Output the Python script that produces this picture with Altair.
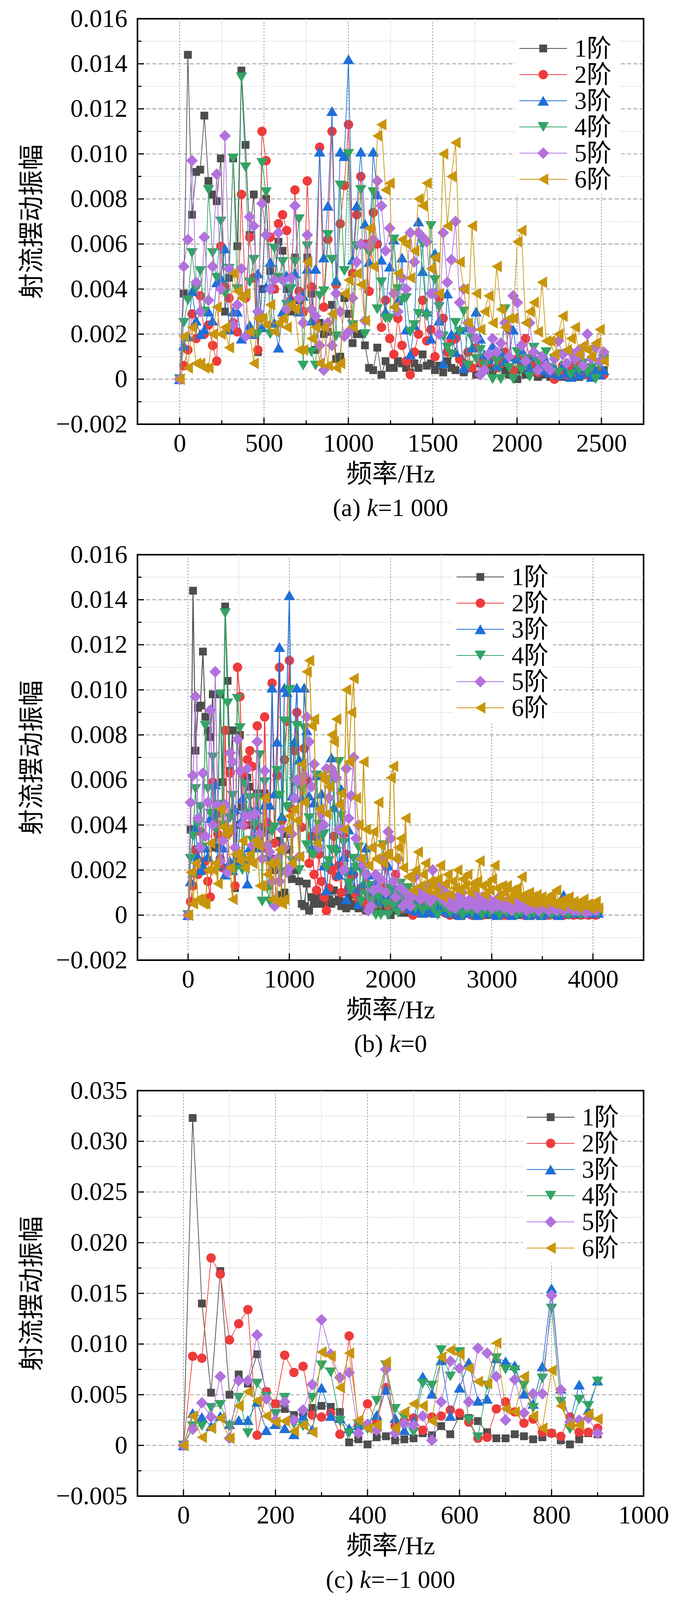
import altair as alt
import pandas as pd

W, H = 1296, 1038
FONT = "Liberation Serif, Noto Sans CJK SC"

ORDERS = ["1阶", "2阶", "3阶", "4阶", "5阶", "6阶"]
COLORS = ["#4d4d4d", "#ef3b3b", "#1f6fd8", "#33a465", "#b272dd", "#c8960c"]
SHAPES = ["square", "circle", "triangle-up", "triangle-down", "diamond", "triangle-left"]
SIZES = [400, 576, 840, 840, 900, 900]

# frequency resolution of the spectra (Hz per bin)
STEP_AB = 24.41
STEP_C = 20.0

# amplitudes, in units of 1e-4
# k = 1 000 (bins 0..103); k = 0 repeats these and continues with the *_tail bins
s1 = [0, 38, 144, 73, 92, 93, 117, 88, 82, 79,
      98, 30, 45, 98, 59, 137, 104, 64, 82, 12,
      40, 80, 48, 40, 61, 57, 40, 30, 54, 35,
      30, 54, 38, 13, 25, 20, 21, 33, 9, 10,
      36, 29, 16, 20, 20, 15, 5, 4, 14, 2,
      8, 5, 5, 8, 7, 5, 3, 7, 5, 11,
      6, 7, 4, 6, 3, 8, 5, 4, 9, 3,
      6, 5, 2, 7, 4, 6, 3, 5, 8, 4,
      2, 3, 0, 4, 2, 5, 3, 1, 2, 4,
      1, 3, 2, 1, 3, 2, 4, 1, 2, 3,
      1, 2, 3, 4]
s2 = [0, 6, 13, 29, 18, 37, 20, 24, 15, 8,
      59, 41, 36, 25, 21, 82, 36, 63, 45, 13,
      110, 97, 63, 40, 69, 73, 66, 35, 84, 39,
      30, 88, 41, 25, 103, 32, 62, 110, 42, 69,
      86, 113, 47, 73, 90, 60, 39, 74, 60, 23,
      35, 18, 11, 27, 15, 8, 2, 12, 20, 35,
      17, 22, 10, 36, 27, 12, 17, 18, 9, 7,
      12, 5, 14, 8, 6, 8, 10, 5, 7, 12,
      22, 4, 9, 6, 18, 9, 6, 3, 8, 4,
      5, 0, 3, 6, 2, 4, 7, 3, 4, 2,
      5, 3, 4, 2]
s3 = [0, 15, 19, 39, 26, 20, 22, 30, 26, 43,
      45, 58, 22, 30, 30, 18, 20, 24, 20, 47,
      23, 41, 52, 25, 14, 30, 46, 35, 47, 30,
      37, 49, 26, 49, 101, 54, 77, 119, 44, 101,
      99, 142, 53, 77, 101, 69, 52, 101, 82, 53,
      30, 50, 62, 35, 54, 22, 11, 24, 70, 48,
      30, 18, 56, 26, 7, 38, 20, 12, 22, 5,
      23, 14, 30, 18, 11, 9, 15, 6, 12, 8,
      10, 22, 9, 13, 7, 5, 10, 6, 4, 8,
      3, 5, 2, 6, 3, 1, 4, 2, 5, 3,
      1, 4, 2, 4]
s4 = [0, 25, 35, 56, 40, 48, 30, 84, 56, 45,
      70, 38, 49, 98, 40, 134, 94, 43, 53, 20,
      96, 83, 20, 58, 45, 52, 33, 40, 52, 71,
      6, 59, 12, 6, 37, 39, 64, 53, 19, 86,
      48, 100, 24, 59, 84, 20, 56, 83, 31, 43,
      27, 27, 62, 40, 35, 36, 21, 24, 29, 60,
      28, 68, 44, 32, 19, 14, 11, 25, 21, 30,
      6, 18, 9, 13, 6, 10, 0, 8, 0, 31,
      5, 0, 12, 4, 9, 1, 14, 7, 10, 12,
      5, 9, 3, 11, 6, 2, 8, 4, 7, 3,
      5, 0, 6, 9]
s5 = [0, 50, 62, 97, 43, 30, 63, 35, 50, 91,
      40, 108, 49, 24, 33, 49, 19, 72, 68, 30,
      78, 64, 40, 44, 65, 44, 31, 45, 77, 36,
      25, 64, 31, 28, 15, 4, 25, 15, 38, 30,
      19, 21, 36, 52, 60, 26, 59, 62, 88, 77,
      57, 67, 38, 30, 45, 40, 65, 52, 65, 63,
      61, 38, 38, 20, 65, 43, 53, 70, 34, 40,
      25, 22, 18, 2, 4, 11, 18, 12, 16, 25,
      10, 37, 34, 15, 8, 25, 12, 4, 10, 6,
      4, 9, 17, 11, 7, 12, 9, 13, 6, 20,
      9, 14, 8, 12]
s6 = [0, 19, 5, 23, 7, 7, 5, 5, 20, 32,
      20, 23, 14, 47, 39, 36, 38, 21, 7, 27,
      27, 24, 33, 21, 25, 27, 23, 33, 31, 13,
      13, 52, 18, 23, 7, 23, 6, 29, 5, 7,
      38, 44, 23, 47, 42, 26, 67, 50, 108, 113,
      84, 87, 32, 47, 62, 60, 45, 57, 80, 77,
      87, 49, 54, 38, 100, 68, 90, 105, 52, 40,
      25, 68, 38, 22, 30, 37, 25, 50, 31, 23,
      27, 27, 61, 66, 25, 30, 34, 21, 43, 17,
      17, 11, 20, 28, 13, 18, 23, 11, 15, 13,
      10, 16, 22, 8]

s1_tail = [2, 1, 3, 0, 2, 1, 0, 2, 1, 3, 1, 0, 2, 1, 0, 1, 2, 0, 1, 3,
           1, 0, 2, 1, 0, 1, 2, 0, 1, 0, 2, 1, 0, 1, 0, 2, 1, 0, 1, 2,
           0, 1, 0, 1, 2, 0, 1, 0, 1, 0, 2, 1, 0, 1, 0, 1, 2, 0, 1, 0,
           1, 0, 1]
s2_tail = [1, 3, 0, 2, 4, 1, 2, 0, 3, 1, 2, 0, 1, 3, 2, 0, 1, 2, 3, 1,
           0, 2, 1, 3, 0, 1, 2, 1, 0, 2, 3, 1, 0, 2, 1, 0, 1, 2, 0, 1,
           3, 1, 0, 2, 1, 0, 1, 2, 0, 1, 2, 1, 0, 1, 2, 0, 1, 1, 0, 2,
           1, 0, 3]
s3_tail = [2, 4, 1, 3, 5, 2, 0, 3, 1, 4, 2, 1, 3, 0, 2, 4, 1, 3, 2, 5,
           1, 0, 3, 2, 1, 4, 2, 0, 3, 1, 2, 4, 1, 3, 0, 2, 1, 3, 2, 0,
           1, 3, 2, 4, 1, 2, 0, 3, 9, 2, 1, 3, 2, 1, 4, 2, 1, 3, 2, 1,
           2, 3, 1]
s4_tail = [3, 5, 1, 4, 6, 2, 3, 0, 5, 2, 4, 1, 3, 6, 2, 0, 4, 3, 1, 5,
           2, 3, 0, 4, 2, 1, 3, 5, 2, 0, 3, 1, 4, 2, 0, 3, 1, 2, 4, 0,
           2, 3, 1, 0, 2, 3, 1, 2, 4, 1, 0, 2, 3, 1, 2, 0, 3, 4, 2, 1,
           3, 2, 1]
s5_tail = [6, 9, 4, 7, 3, 8, 5, 10, 6, 4, 7, 5, 9, 3, 6, 8, 4, 5, 7, 3,
           6, 4, 8, 5, 3, 6, 4, 2, 5, 7, 3, 4, 6, 2, 5, 3, 4, 6, 2, 3,
           5, 4, 2, 3, 5, 2, 4, 3, 2, 4, 3, 5, 2, 3, 2, 4, 3, 1, 3, 2,
           4, 2, 3]
s6_tail = [14, 18, 9, 15, 12, 20, 11, 16, 13, 18, 10, 14, 12, 15, 24, 13, 9, 14, 11, 16,
           22, 12, 8, 13, 10, 13, 7, 11, 9, 12, 8, 17, 9, 6, 10, 8, 5, 9, 6, 8,
           5, 7, 6, 9, 5, 11, 6, 4, 7, 5, 8, 4, 6, 5, 3, 5, 7, 4, 5, 3,
           5, 6, 3]

# k = -1 000, 0..900 Hz
c1 = [0, 323, 140, 52, 172, 50, 70, 61, 90, 53, 41, 36, 30, 32, 37, 39, 38, 33, 3, 6,
      1, 8, 9, 5, 6, 7, 12, 10, 19, 11, 29, 27, 24, 13, 7, 7, 11, 9, 6, 8,
      12, 5, 1, 6, 12, 11]
c2 = [0, 88, 86, 185, 169, 104, 120, 134, 10, 53, 41, 89, 72, 78, 30, 28, 32, 11, 108, 20,
      41, 24, 57, 19, 24, 27, 15, 28, 29, 35, 32, 23, 7, 8, 36, 43, 33, 22, 26, 13,
      12, 9, 28, 13, 13, 17]
c3 = [0, 32, 28, 19, 29, 21, 25, 25, 43, 15, 21, 17, 11, 29, 16, 57, 29, 27, 17, 20,
      21, 30, 55, 27, 15, 24, 68, 51, 84, 29, 57, 82, 44, 46, 86, 83, 79, 51, 41, 78,
      155, 56, 24, 60, 35, 64]
c4 = [0, 19, 19, 37, 40, 19, 47, 12, 61, 48, 31, 47, 21, 19, 47, 79, 72, 24, 12, 21,
      16, 44, 79, 36, 27, 13, 61, 59, 94, 68, 92, 25, 8, 59, 86, 75, 74, 59, 37, 66,
      135, 43, 16, 45, 39, 63]
c5 = [0, 16, 42, 28, 68, 7, 64, 64, 109, 46, 25, 43, 25, 35, 60, 124, 90, 67, 72, 12,
      21, 15, 75, 12, 22, 20, 29, 5, 43, 83, 76, 43, 96, 91, 68, 25, 65, 32, 51, 51,
      148, 55, 23, 25, 27, 12]
c6 = [0, 29, 8, 17, 27, 7, 39, 53, 44, 29, 23, 24, 14, 20, 13, 92, 88, 57, 91, 25,
      17, 20, 82, 17, 33, 41, 39, 24, 87, 94, 90, 76, 63, 61, 101, 36, 33, 68, 29, 17,
      74, 39, 20, 20, 31, 26]

# axis ticks
y_major_ab = [-0.002, 0, 0.002, 0.004, 0.006, 0.008, 0.010, 0.012, 0.014, 0.016]
y_minor_ab = [-0.001, 0.001, 0.003, 0.005, 0.007, 0.009, 0.011, 0.013, 0.015]
y_major_c = [-0.005, 0, 0.005, 0.010, 0.015, 0.020, 0.025, 0.030, 0.035]
y_minor_c = [-0.0025, 0.0025, 0.0075, 0.0125, 0.0175, 0.0225, 0.0275, 0.0325]
x_major_a = [0, 500, 1000, 1500, 2000, 2500]
x_minor_a = [250, 750, 1250, 1750, 2250]
x_major_b = [0, 1000, 2000, 3000, 4000]
x_minor_b = [500, 1500, 2500, 3500]
x_major_c = [0, 200, 400, 600, 800, 1000]
x_minor_c = [100, 300, 500, 700, 900]

X_TITLE = "频率/Hz"
Y_TITLE = "射流摆动振幅"


def long_table(step, columns):
    rows = []
    for name, vals in zip(ORDERS, columns):
        for i, v in enumerate(vals):
            rows.append({"f": round(i * step, 2), "amp": v / 1e4, "order": name})
    return pd.DataFrame(rows)


def one_row(**kw):
    return alt.Chart(pd.DataFrame({k: [v] for k, v in kw.items()}))


def caption_layers(prefix, suffix):
    # rough Times advance widths (em), only used to centre the caption
    adv = {"(": 0.333, ")": 0.333, " ": 0.25, "a": 0.444, "b": 0.5, "c": 0.444,
           "=": 0.564, "0": 0.5, "1": 0.5, "\u2212": 0.564}
    fs = 64
    wp = sum(adv[ch] for ch in prefix) * fs
    wk = 0.444 * fs
    ws = sum(adv[ch] for ch in suffix) * fs
    x0 = W / 2 - (wp + wk + ws) / 2
    y = H + 216
    out = []
    for txt, x, style in [(prefix, x0, "normal"), ("k", x0 + wp, "italic"), (suffix, x0 + wp + wk, "normal")]:
        out.append(one_row(t=txt).mark_text(font=FONT, fontSize=fs, fontStyle=style, align="left",
                                             baseline="middle", color="black")
                   .encode(x=alt.value(x), y=alt.value(y), text="t:N"))
    return out


def legend_layers(lx, ly, box):
    out = [one_row(k=0).mark_rect(fill="white").encode(
        x=alt.value(box[0]), x2=alt.value(box[1]), y=alt.value(box[2]), y2=alt.value(box[3]))]
    for k, (name, color, shape, size) in enumerate(zip(ORDERS, COLORS, SHAPES, SIZES)):
        yy = ly + k * 67
        out.append(one_row(order=name).mark_rule(color=color, strokeWidth=2).encode(
            x=alt.value(lx), x2=alt.value(lx + 122), y=alt.value(yy)))
        out.append(one_row(order=name).mark_point(shape=shape, size=size, filled=True, color=color,
                                                  opacity=1, strokeWidth=0).encode(
            x=alt.value(lx + 61), y=alt.value(yy)))
        out.append(one_row(order=name).mark_text(font=FONT, fontSize=63, align="left", baseline="middle",
                                                 color="black").encode(
            x=alt.value(lx + 141), y=alt.value(yy + 2), text="order:N"))
    return out


def panel(data, xdom, xmaj, xmin, ydom, ymaj, ymin, line_w, legend, caption):
    xs = alt.Scale(domain=xdom, nice=False, zero=False)
    ys = alt.Scale(domain=ydom, nice=False, zero=False)
    inside = lambda vals, dom: [v for v in vals if dom[0] < v < dom[1]]

    x_axis = alt.Axis(values=xmaj, format="d", grid=False, ticks=False, tickSize=0, domain=False,
                      labelFont=FONT, labelFontSize=65, labelColor="black", labelPadding=18,
                      labelOverlap=False, labelFlush=False, labelLimit=0, titleFont=FONT, titleFontSize=66,
                      titleFontWeight="normal", titleColor="black", titlePadding=14)
    y_axis = alt.Axis(values=ymaj, labelExpr="datum.value == 0 ? '0' : format(datum.value, '.3f')",
                      grid=False, ticks=False, tickSize=0, domain=False, labelFont=FONT, labelFontSize=65,
                      labelColor="black", labelPadding=26, labelOverlap=False, labelFlush=False,
                      labelLimit=0, titleFont=FONT, titleFontSize=66, titleFontWeight="normal",
                      titleColor="black", titlePadding=36)

    # every layer carries the same axis definition so the layered axis survives
    X = lambda field: alt.X(field, scale=xs, axis=x_axis, title=X_TITLE)
    Y = lambda field: alt.Y(field, scale=ys, axis=y_axis, title=Y_TITLE)

    layers = [
        alt.Chart(pd.DataFrame({"x": inside(xmin, xdom)})).mark_rule(
            color="#bdbdbd", strokeWidth=1.6, strokeDash=[2, 3]).encode(x=X("x:Q")),
        alt.Chart(pd.DataFrame({"y": inside(ymin, ydom)})).mark_rule(
            color="#bdbdbd", strokeWidth=1.6, strokeDash=[2, 3]).encode(y=Y("y:Q")),
        alt.Chart(pd.DataFrame({"x": inside(xmaj, xdom)})).mark_rule(
            color="#858585", strokeWidth=1.6, strokeDash=[4, 4]).encode(x=X("x:Q")),
        alt.Chart(pd.DataFrame({"y": inside(ymaj, ydom)})).mark_rule(
            color="#858585", strokeWidth=1.6, strokeDash=[10, 6]).encode(y=Y("y:Q")),
    ]

    for name, color, shape, size in zip(ORDERS, COLORS, SHAPES, SIZES):
        base = alt.Chart(data[data["order"] == name]).encode(x=X("f:Q"), y=Y("amp:Q"))
        layers.append(base.mark_line(color=color, strokeWidth=line_w))
        layers.append(base.mark_point(shape=shape, size=size, filled=True, color=color,
                                      opacity=1, strokeWidth=0))

    # inward ticks on the left and bottom
    for vals, length in [(ymaj, 17), (ymin, 10)]:
        layers.append(alt.Chart(pd.DataFrame({"y": vals})).mark_rule(color="black", strokeWidth=3).encode(
            y=Y("y:Q"), x=alt.value(0), x2=alt.value(length)))
    for vals, length in [(xmaj, 17), (xmin, 10)]:
        layers.append(alt.Chart(pd.DataFrame({"x": vals})).mark_rule(color="black", strokeWidth=3).encode(
            x=X("x:Q"), y=alt.value(H), y2=alt.value(H - length)))

    layers += legend_layers(*legend)
    layers += caption_layers(*caption)
    return alt.layer(*layers).properties(width=W, height=H)


cols_a = [s1, s2, s3, s4, s5, s6]
tails = [s1_tail, s2_tail, s3_tail, s4_tail, s5_tail, s6_tail]
cols_b = [a + t for a, t in zip(cols_a, tails)]
cols_c = [c1, c2, c3, c4, c5, c6]

pa = panel(long_table(STEP_AB, cols_a), [-250, 2750], x_major_a, x_minor_a, [-0.002, 0.016],
           y_major_ab, y_minor_ab, 1.8, (978, 76, (967, 1234, 4, 450)), ("(a) ", "=1 000"))
pb = panel(long_table(STEP_AB, cols_b), [-500, 4500], x_major_b, x_minor_b, [-0.002, 0.016],
           y_major_ab, y_minor_ab, 2.4, (817, 57, (806, 1065, 4, 432)), ("(b) ", "=0"))
pc = panel(long_table(STEP_C, cols_c), [-100, 1000], x_major_c, x_minor_c, [-0.005, 0.035],
           y_major_c, y_minor_c, 1.8, (997, 68, (986, 1238, 4, 442)), ("(c) ", "=\u22121 000"))

chart = alt.vconcat(pa, pb, pc, spacing=50).properties(
    padding={"left": 39, "top": 6, "right": 20, "bottom": 4}
).configure(
    background="white",
    view=alt.ViewConfig(stroke="black", strokeWidth=4),
)

chart.save("out.html", embed_options={"renderer": "svg", "actions": False})
